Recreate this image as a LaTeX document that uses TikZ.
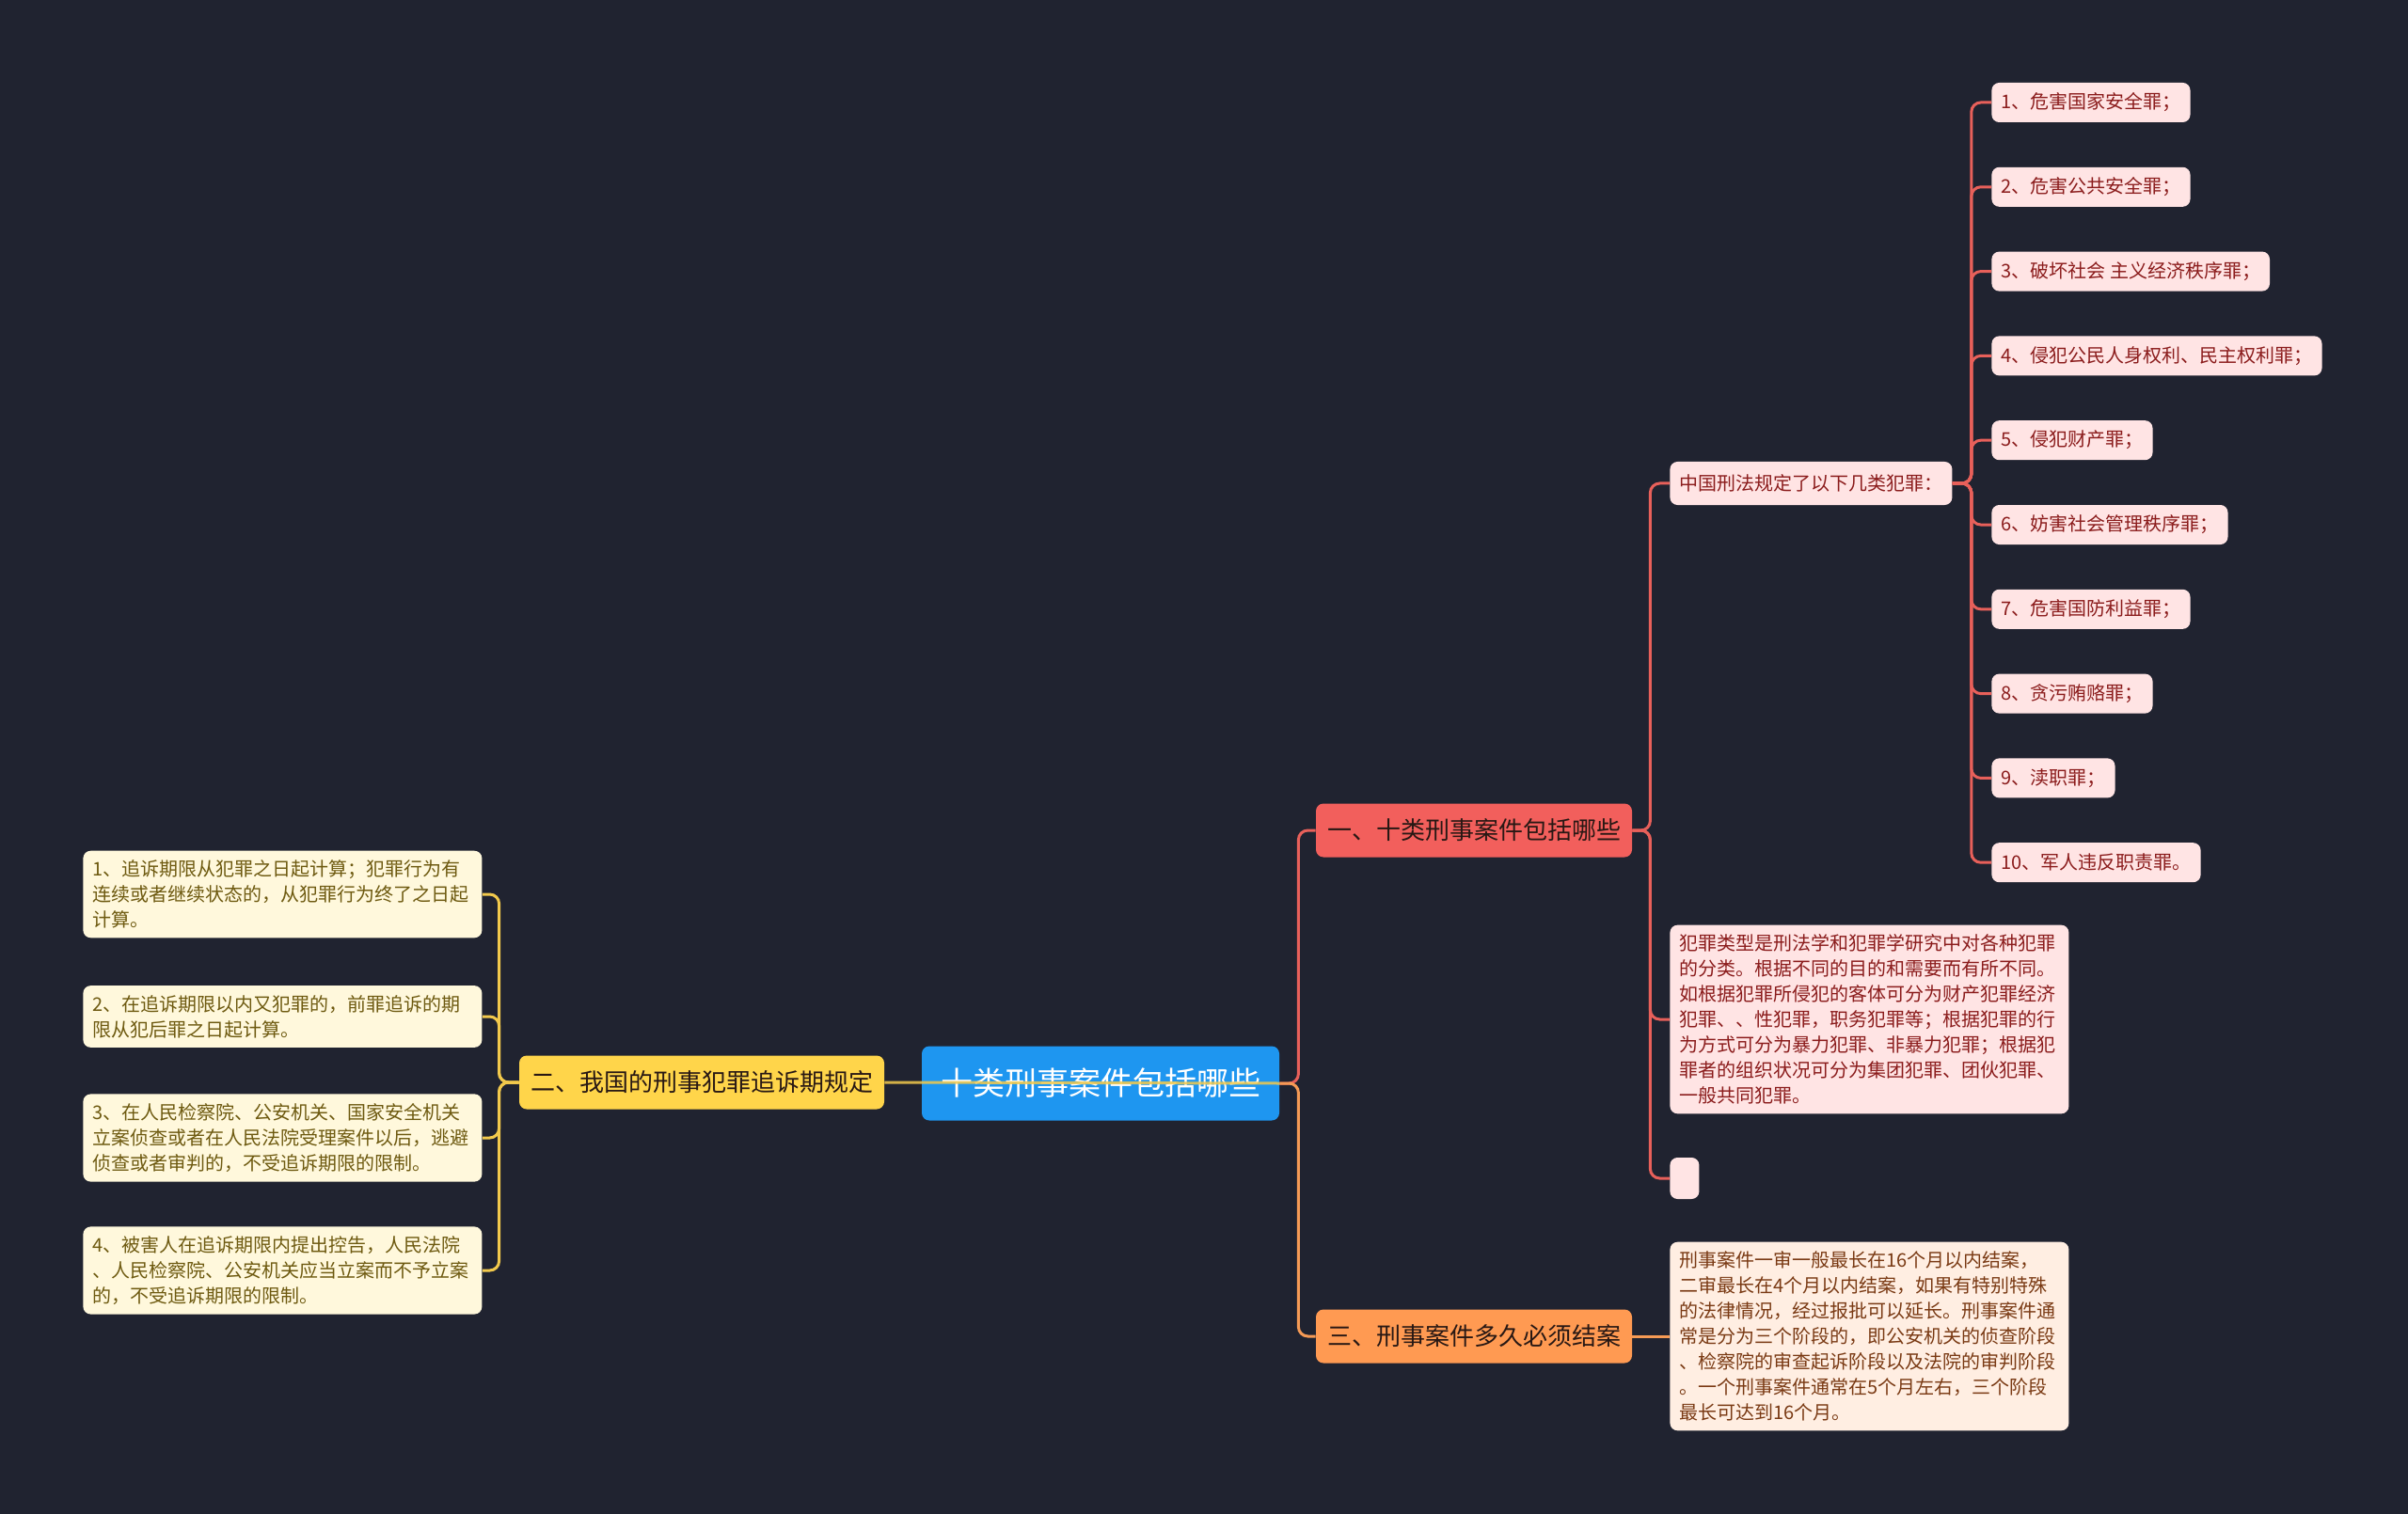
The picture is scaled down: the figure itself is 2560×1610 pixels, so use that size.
\documentclass[tikz,border=0pt]{standalone}
\usepackage{fontspec}
\newfontfamily\cjk{Noto Sans CJK SC}
\usetikzlibrary{positioning}
\definecolor{bgdark}{RGB}{32,35,48}
\definecolor{rootblue}{RGB}{30,150,240}
\definecolor{topicred}{RGB}{242,95,92}
\definecolor{topicyellow}{RGB}{255,213,74}
\definecolor{topicorange}{RGB}{255,154,82}
\definecolor{topicink}{RGB}{40,24,20}
\definecolor{pinkleaf}{RGB}{255,228,228}
\definecolor{pinkink}{RGB}{139,28,28}
\definecolor{creamleaf}{RGB}{255,248,220}
\definecolor{creamink}{RGB}{110,90,16}
\definecolor{peachleaf}{RGB}{255,238,226}
\definecolor{peachink}{RGB}{122,58,20}
\definecolor{redline}{RGB}{232,96,90}
\definecolor{yellowline}{RGB}{242,201,76}
\definecolor{orangeline}{RGB}{245,154,85}

\tikzset{
  root/.style={fill=rootblue, rounded corners=4pt, text=white, inner xsep=10pt, minimum height=39.5pt, font=\cjk\fontsize{17}{20}\selectfont},
  topic/.style={rounded corners=4pt, text=topicink, inner xsep=6pt, minimum height=28.5pt, font=\cjk\fontsize{13}{16}\selectfont},
  leaf/.style={rounded corners=4pt, anchor=west, inner xsep=5pt, inner ysep=4pt, align=left, font=\cjk\fontsize{10}{13.5}\selectfont},
  pinkbox/.style={leaf, fill=pinkleaf, text=pinkink},
  creambox/.style={leaf, fill=creamleaf, text=creamink, text width=202pt, inner ysep=5pt},
  peachbox/.style={leaf, fill=peachleaf, text=peachink, text width=202pt, inner ysep=5pt},
  branch/.style={line width=1.5pt, rounded corners=5pt}
}

\begin{document}
\begin{tikzpicture}[x=0.5pt,y=-0.5pt]
  \fill[bgdark] (0,0) rectangle (2560,1610);
  \useasboundingbox (0,0) rectangle (2560,1610);

  % centre and main topics
  \node[root] (root) at (1170,1152) {十类刑事案件包括哪些};
  \node[topic, fill=topicred] (t1) at (1567,883) {一、十类刑事案件包括哪些};
  \node[topic, fill=topicyellow] (t2) at (746,1151) {二、我国的刑事犯罪追诉期规定};
  \node[topic, fill=topicorange] (t3) at (1567,1421) {三、刑事案件多久必须结案};

  % branch one
  \node[pinkbox, minimum height=23pt] (c0) at (1775,514) {中国刑法规定了以下几类犯罪：};
  \foreach \txt [count=\i] in {1、危害国家安全罪；, 2、危害公共安全罪；, 3、破坏社会 主义经济秩序罪；,
      4、侵犯公民人身权利、民主权利罪；, 5、侵犯财产罪；, 6、妨害社会管理秩序罪；,
      7、危害国防利益罪；, 8、贪污贿赂罪；, 9、渎职罪；, 10、军人违反职责罪。}
    \node[pinkbox, minimum height=21pt] (c\i) at (2117,{109+89.8*(\i-1)}) {\txt};
  \node[pinkbox, text width=202pt, inner ysep=5pt] (d1) at (1775,1084) {犯罪类型是刑法学和犯罪学研究中对各种犯罪\\的分类。根据不同的目的和需要而有所不同。\\如根据犯罪所侵犯的客体可分为财产犯罪经济\\犯罪、、性犯罪，职务犯罪等；根据犯罪的行\\为方式可分为暴力犯罪、非暴力犯罪；根据犯\\罪者的组织状况可分为集团犯罪、团伙犯罪、\\一般共同犯罪。};
  \node[pinkbox, minimum width=15.5pt, minimum height=22pt] (d2) at (1775,1253) {};

  % branch two
  \node[creambox] (l1) at (88,951) {1、追诉期限从犯罪之日起计算；犯罪行为有\\连续或者继续状态的，从犯罪行为终了之日起\\计算。};
  \node[creambox] (l2) at (88,1081) {2、在追诉期限以内又犯罪的，前罪追诉的期\\限从犯后罪之日起计算。};
  \node[creambox] (l3) at (88,1210) {3、在人民检察院、公安机关、国家安全机关\\立案侦查或者在人民法院受理案件以后，逃避\\侦查或者审判的，不受追诉期限的限制。};
  \node[creambox] (l4) at (88,1351) {4、被害人在追诉期限内提出控告，人民法院\\、人民检察院、公安机关应当立案而不予立案\\的，不受追诉期限的限制。};

  % branch three
  \node[peachbox] (e1) at (1775,1421) {刑事案件一审一般最长在16个月以内结案，\\二审最长在4个月以内结案，如果有特别特殊\\的法律情况，经过报批可以延长。刑事案件通\\常是分为三个阶段的，即公安机关的侦查阶段\\、检察院的审查起诉阶段以及法院的审判阶段\\。一个刑事案件通常在5个月左右，三个阶段\\最长可达到16个月。};

  % connectors
  \draw[branch, redline] (root.east) -- ++(20,0) |- (t1.west);
  \draw[branch, orangeline] (root.east) -- ++(20,0) |- (t3.west);
  \draw[branch, yellowline, opacity=0.85] (t2.east) -- (root.east);
  \foreach \n in {l1,l2,l3,l4}
    \draw[branch, yellowline] (t2.west) -- ++(-21,0) |- (\n.east);
  \foreach \n in {c0,d1,d2}
    \draw[branch, redline] (t1.east) -- ++(19,0) |- (\n.west);
  \foreach \i in {1,...,10}
    \draw[branch, redline] (c0.east) -- ++(20,0) |- (c\i.west);
  \draw[branch, orangeline] (t3.east) -- (e1.west);
\end{tikzpicture}
\end{document}
